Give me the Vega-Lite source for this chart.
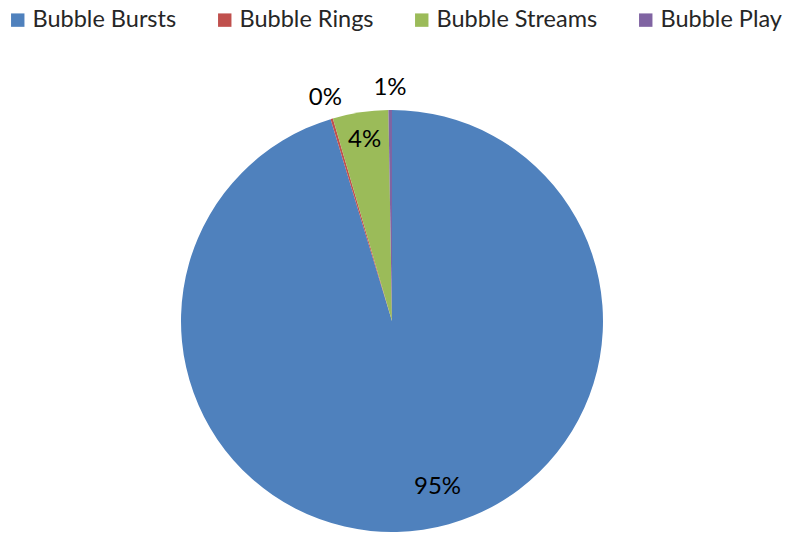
{
  "$schema": "https://vega.github.io/schema/vega-lite/v6.json",
  "width": 784,
  "height": 422,
  "autosize": {"type": "none"},
  "padding": {"left": 0, "right": 4, "top": 110, "bottom": 3},
  "background": "white",
  "config": {"view": {"stroke": null}, "font": "Lato"},
  "data": {
    "values": [
      {"series": "Bubble Bursts", "idx": 1, "value": 95.3, "label": "95%"},
      {"series": "Bubble Rings", "idx": 2, "value": 0.18, "label": "0%"},
      {"series": "Bubble Streams", "idx": 3, "value": 4.25, "label": "4%"},
      {"series": "Bubble Play", "idx": 4, "value": 0.27, "label": "1%"}
    ]
  },
  "encoding": {
    "theta": {"field": "value", "type": "quantitative", "stack": true},
    "order": {"field": "idx", "type": "quantitative"}
  },
  "layer": [
    {
      "mark": {"type": "arc", "outerRadius": 211},
      "encoding": {
        "color": {
          "field": "series",
          "type": "nominal",
          "scale": {
            "domain": ["Bubble Bursts", "Bubble Rings", "Bubble Streams", "Bubble Play"],
            "range": ["#4F81BD", "#C0504D", "#9BBB59", "#8064A2"]
          },
          "legend": {
            "title": null,
            "orient": "none",
            "direction": "horizontal",
            "legendX": 6,
            "legendY": -102,
            "symbolType": "square",
            "symbolSize": 180,
            "symbolStrokeWidth": 0,
            "labelFontSize": 23.5,
            "labelFont": "Lato",
            "labelColor": "#262626",
            "labelOffset": 3,
            "columnPadding": 36,
            "labelLimit": 300
          }
        }
      }
    },
    {
      "mark": {"type": "text", "radius": 172, "thetaOffset": -0.12, "fontSize": 24, "color": "#000"},
      "encoding": {
        "text": {"condition": {"test": "datum.series === 'Bubble Bursts'", "field": "label"}, "value": ""}
      }
    },
    {
      "mark": {"type": "text", "radius": 183, "fontSize": 24, "color": "#000"},
      "encoding": {
        "text": {"condition": {"test": "datum.series === 'Bubble Streams'", "field": "label"}, "value": ""}
      }
    },
    {
      "mark": {"type": "text", "radius": 233, "fontSize": 24, "color": "#000"},
      "encoding": {
        "text": {"condition": {"test": "datum.series === 'Bubble Rings' || datum.series === 'Bubble Play'", "field": "label"}, "value": ""}
      }
    }
  ]
}
